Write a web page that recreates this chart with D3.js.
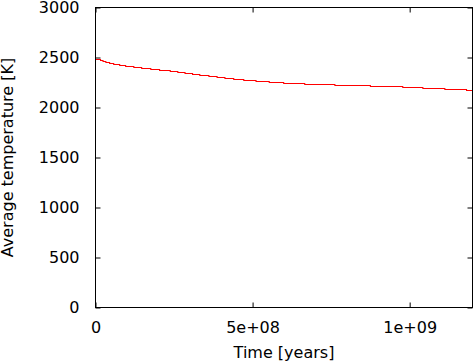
<!DOCTYPE html>
<html>
<head>
<meta charset="utf-8">
<script src="https://cdn.jsdelivr.net/npm/d3@7"></script>
<style>
  html, body { margin: 0; padding: 0; background: #fff; }
  svg { display: block; }
  text { font-family: "DejaVu Sans", sans-serif; fill: #000; }
</style>
</head>
<body>
<svg id="chart" width="473" height="363"></svg>
<script>
// Step times (years) where the average temperature changes
const stepTimes = [0, 16e6, 24e6, 33e6, 45e6, 58e6, 77e6, 96e6, 122e6, 147e6, 176e6, 204e6,
  238e6, 262e6, 285e6, 309e6, 332e6, 361e6, 387e6, 412e6, 440e6, 472e6, 511e6, 553e6,
  599e6, 666e6, 762e6, 875e6, 978e6, 1042e6, 1112e6, 1181e6, 1200e6];
// Average temperature [K] from each step time onward
const temps = [2480, 2470, 2460, 2450, 2440, 2430, 2420, 2410, 2400, 2390, 2380, 2370,
  2360, 2350, 2340, 2330, 2320, 2310, 2300, 2290, 2280, 2270, 2260, 2250,
  2240, 2230, 2220, 2210, 2200, 2190, 2180, 2170, 2170];
const xTicks = [0, 5e8, 1e9];
const xTickLabels = ["0", "5e+08", "1e+09"];
const yTicks = [0, 500, 1000, 1500, 2000, 2500, 3000];

const svg = d3.select("#chart");
const pL = 95.5, pR = 472.5, pT = 7.5, pB = 307.5;

const x = d3.scaleLinear().domain([0, 1.2e9]).range([pL, pR]);
const y = d3.scaleLinear().domain([0, 3000]).range([pB, pT]);

const fontSize = 16;

// Left axis with labels
const gL = svg.append("g").attr("transform", `translate(${pL},0)`)
  .call(d3.axisLeft(y).tickValues(yTicks).tickFormat(d3.format("d"))
    .tickSizeInner(-5).tickSizeOuter(0).tickPadding(16));
// Bottom axis with labels
const gB = svg.append("g").attr("transform", `translate(0,${pB})`)
  .call(d3.axisBottom(x).tickValues(xTicks).tickFormat((d, i) => xTickLabels[i])
    .tickSizeInner(-5).tickSizeOuter(0).tickPadding(14));
// Mirrored ticks on right and top
const gR = svg.append("g").attr("transform", `translate(${pR},0)`)
  .call(d3.axisRight(y).tickValues(yTicks).tickFormat("")
    .tickSizeInner(-5).tickSizeOuter(0));
const gT = svg.append("g").attr("transform", `translate(0,${pT})`)
  .call(d3.axisTop(x).tickValues(xTicks).tickFormat("")
    .tickSizeInner(-5).tickSizeOuter(0));

[gL, gB, gR, gT].forEach(g => {
  g.select(".domain").remove();
  g.selectAll("line").attr("stroke", "#000").attr("stroke-width", 1);
  g.selectAll("text").attr("font-size", fontSize).attr("font-family", "DejaVu Sans").attr("fill", "#000");
});

// Data line (stepped)
const pts = stepTimes.map((t, i) => [t, temps[i]]);
svg.append("path")
  .datum(pts)
  .attr("fill", "none")
  .attr("stroke", "#ff0000")
  .attr("stroke-width", 1.1)
  .attr("d", d3.line().x(d => x(d[0])).y(d => y(d[1])).curve(d3.curveStepAfter));

// Frame
svg.append("rect")
  .attr("x", pL).attr("y", pT)
  .attr("width", pR - pL).attr("height", pB - pT)
  .attr("fill", "none").attr("stroke", "#000").attr("stroke-width", 1);

// Axis titles
svg.append("text")
  .attr("x", (pL + pR) / 2).attr("y", 358)
  .attr("text-anchor", "middle").attr("font-size", fontSize)
  .text("Time [years]");
svg.append("text")
  .attr("transform", `translate(13,${(pT + pB) / 2}) rotate(-90)`)
  .attr("text-anchor", "middle").attr("font-size", fontSize)
  .text("Average temperature [K]");
</script>
</body>
</html>
